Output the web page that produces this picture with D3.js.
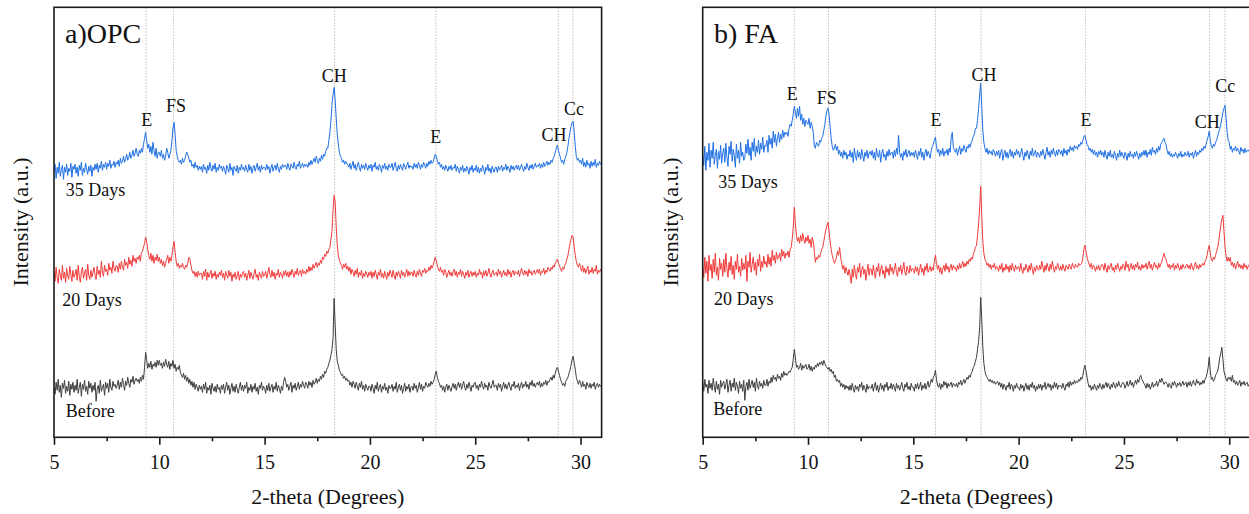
<!DOCTYPE html>
<html>
<head>
<meta charset="utf-8">
<script src="https://cdn.jsdelivr.net/npm/d3@7"></script>
<style>
  body { margin: 0; background: #fff; }
  svg { display: block; }
  text { font-family: "Liberation Serif", "Times New Roman", serif; fill: #111; }
</style>
</head>
<body>
<svg id="chart" width="1249" height="514"></svg>
<script>
// XRD patterns: intensity sampled every 0.05 degree of 2-theta, from 5 to 31
// (one row per degree, 20 samples each).
const twoThetaStart = 5;
const twoThetaStep = 0.05;

const seriesNames = ["Before", "20 Days", "35 Days"];
const xTickValues = [5, 10, 15, 20, 25, 30];
const xMinorTickValues = [7.5, 12.5, 17.5, 22.5, 27.5];

// a) OPC
const opcBefore = [
  50,43,55,47,58,45,52,40,54,49,57,44,51,46,56,42,53,48,55,45,
  52,47,58,44,50,55,41,53,48,57,46,51,43,56,49,54,45,52,47,55,
  36,48,52,44,57,46,50,53,42,55,49,54,45,58,50,47,56,51,53,49,
  52,57,48,55,50,59,53,47,56,52,60,54,50,58,55,61,53,57,59,56,
  58,54,60,56,62,58,70,85,78,69,74,70,76,68,73,71,75,70,77,72,
  77,72,74,69,75,71,78,73,70,76,68,74,71,77,69,73,66,70,68,72,
  65,62,60,64,58,62,56,60,54,58,52,56,50,55,48,53,50,46,52,48,
  51,45,53,48,55,44,50,47,52,43,54,49,46,51,45,53,48,50,44,52,
  48,53,44,50,55,47,52,43,49,54,46,51,45,53,48,44,50,55,47,52,
  46,52,49,55,44,50,47,53,45,51,48,54,46,50,43,52,49,55,47,51,
  49,44,52,47,54,46,50,53,45,51,48,55,46,52,49,44,51,47,55,60,
  56,50,53,47,51,55,45,52,49,54,47,51,55,48,53,50,56,52,49,55,
  53,49,56,52,55,50,57,53,55,59,54,58,56,61,58,63,60,66,64,68,
  70,74,77,82,88,100,139,112,88,76,72,67,65,62,63,59,61,57,59,56,
  57,52,55,50,56,53,49,55,51,47,54,50,56,48,52,46,53,50,47,51,
  51,46,53,49,44,52,48,55,46,50,53,45,51,48,54,47,50,44,52,49,
  49,53,46,51,48,55,45,50,53,47,52,44,49,54,46,51,48,53,45,50,
  51,47,54,49,52,45,50,55,48,53,46,51,49,55,52,50,54,51,56,53,
  55,58,63,66,60,56,54,50,52,47,51,45,50,53,47,52,49,46,51,54,
  49,53,47,52,55,50,54,48,52,56,50,47,53,49,55,51,46,52,50,54,
  55,49,52,47,53,50,56,51,48,54,50,52,47,55,51,49,53,57,50,52,
  52,47,54,50,53,46,51,55,49,53,48,52,55,50,47,53,51,56,49,52,
  50,54,47,52,55,49,53,51,56,50,53,48,55,52,57,51,54,50,53,55,
  52,56,50,54,51,55,53,57,52,56,55,58,60,57,62,59,64,68,70,66,
  62,58,55,52,54,51,56,58,60,64,67,72,78,81,74,68,60,56,53,57,
  54,50,56,51,53,48,55,52,50,54,49,53,51,55,48,52,54,50,53,51,
  52
];
const opc20Days = [
  56,46,60,50,44,58,52,47,62,49,55,45,59,51,48,61,53,46,57,50,
  53,58,47,62,51,45,56,60,49,54,58,47,63,52,48,57,50,55,60,52,
  48,61,53,57,50,66,55,51,62,56,58,52,64,57,60,54,66,59,56,62,
  61,55,64,58,66,60,57,68,62,65,59,70,63,67,61,72,66,69,64,70,
  68,72,66,74,76,80,84,90,86,78,72,68,74,66,72,64,70,67,73,66,
  70,64,68,62,66,60,64,68,72,64,70,66,72,80,86,75,66,61,64,59,
  62,60,64,60,58,62,60,64,70,68,62,57,54,56,51,55,50,56,52,54,
  54,48,56,51,58,47,55,50,53,57,49,54,51,56,48,53,50,55,52,57,
  50,54,47,56,52,49,57,51,55,46,53,50,55,48,52,56,47,53,50,54,
  56,50,54,47,52,57,49,55,51,48,54,58,50,53,47,55,52,49,56,51,
  52,56,49,54,60,53,50,57,51,55,48,54,52,58,50,55,53,49,56,52,
  57,51,55,50,56,52,58,54,50,56,53,59,52,55,57,51,58,54,56,53,
  58,55,61,56,60,57,63,59,62,65,60,64,62,67,64,70,68,73,71,76,
  74,78,80,88,96,118,132,125,100,82,72,67,64,62,58,63,60,64,58,61,
  56,60,53,58,55,51,57,53,59,50,55,52,57,49,54,51,56,53,50,55,
  52,56,49,55,51,57,53,48,55,52,58,50,54,49,56,52,48,55,51,57,
  54,50,57,52,48,55,51,56,53,49,57,52,55,50,54,58,51,56,52,55,
  55,51,57,53,50,56,52,58,54,51,57,55,59,54,57,56,60,57,62,59,
  62,66,70,67,62,58,56,60,55,57,52,58,55,50,54,57,52,55,51,56,
  58,52,56,50,55,53,58,51,56,53,49,55,52,57,50,54,56,51,55,52,
  56,50,54,52,58,53,55,49,56,52,57,51,54,59,53,50,55,57,52,54,
  55,51,58,53,56,50,54,57,52,55,51,58,53,56,50,55,57,52,56,54,
  53,57,51,55,59,54,52,57,53,56,51,58,54,56,52,55,57,53,55,58,
  54,58,52,56,55,59,53,57,55,60,58,56,60,58,62,60,64,66,68,64,
  62,58,56,60,58,62,64,68,72,78,84,88,92,90,80,72,66,62,60,64,
  60,56,62,55,59,54,58,61,53,57,55,60,54,58,56,62,53,57,55,58,
  55
];
const opc35Days = [
  52,58,44,55,49,60,46,53,57,43,55,50,58,47,54,51,59,45,56,53,
  58,49,55,46,57,52,60,47,54,50,59,53,48,56,51,57,46,55,52,58,
  53,59,50,57,54,61,52,58,55,60,53,59,56,62,54,58,57,61,55,60,
  58,62,56,64,59,61,66,60,63,68,62,65,70,64,67,72,66,69,74,68,
  66,72,69,74,70,78,84,90,82,74,78,70,76,68,80,72,66,74,64,70,
  70,66,72,64,68,62,66,74,70,64,68,72,82,94,100,88,72,66,62,60,
  62,58,64,60,62,66,70,68,64,60,62,56,58,54,60,55,57,52,56,53,
  56,50,58,53,55,49,57,52,60,54,51,57,53,59,50,55,52,58,54,56,
  51,56,53,48,57,54,50,59,52,55,47,56,53,51,57,49,55,52,58,53,
  55,51,57,53,50,58,52,56,49,54,57,51,55,59,52,56,50,57,53,55,
  55,52,58,53,56,49,54,58,51,55,57,52,59,54,50,56,53,58,55,57,
  57,53,59,55,52,58,56,54,60,55,53,58,56,61,54,57,59,55,58,56,
  58,55,60,57,62,58,61,64,60,66,62,59,64,61,67,63,68,66,71,74,
  74,82,90,102,118,128,135,122,104,88,78,70,66,64,60,62,58,61,59,57,
  55,59,53,57,61,54,58,52,56,60,55,51,58,54,57,53,59,55,52,57,
  54,58,51,57,55,60,53,56,52,58,55,50,57,54,59,53,56,52,58,55,
  55,59,52,56,60,54,51,57,53,58,55,52,59,56,53,57,60,54,57,55,
  56,53,59,55,58,54,60,57,53,58,55,60,57,54,59,56,61,58,62,59,
  60,64,68,66,62,58,60,55,58,53,56,52,57,54,51,56,53,57,52,55,
  54,58,51,56,53,49,55,52,57,50,54,51,56,53,48,55,52,57,50,54,
  52,57,50,55,49,54,51,57,53,48,55,52,58,51,54,49,56,53,50,55,
  55,50,56,52,54,57,51,55,53,58,52,56,54,50,57,53,56,52,55,57,
  53,57,52,55,58,54,51,56,53,59,55,52,57,54,58,53,56,59,55,57,
  56,59,54,58,55,60,56,58,61,57,60,58,62,60,64,66,70,74,77,72,
  68,64,60,62,58,63,66,70,76,84,90,96,100,101,90,76,66,62,64,60,
  62,58,64,56,60,55,62,57,59,54,61,56,60,57,63,55,59,57,61,58,
  58
];
const opcOffsets = [0, 110, 215];

// b) FA
const faBefore = [
  55,46,58,50,53,44,57,49,54,47,59,51,45,56,48,53,43,57,50,54,
  56,48,53,58,45,52,57,46,54,50,59,47,55,51,44,56,49,53,46,57,
  37,51,55,47,58,49,53,57,50,55,46,59,52,48,56,51,54,49,57,52,
  52,58,51,56,54,60,55,62,58,60,56,63,59,61,57,64,60,66,62,64,
  62,64,66,65,68,70,78,88,80,70,72,68,70,74,67,72,69,71,73,68,
  69,73,67,71,66,70,68,72,70,74,71,75,73,76,72,77,74,71,70,68,
  70,66,68,64,66,60,62,56,58,55,57,51,54,50,53,48,52,49,51,47,
  52,47,54,49,45,52,48,51,46,53,50,55,47,52,49,45,53,48,51,50,
  49,53,46,51,55,47,52,45,50,54,48,52,46,53,50,55,47,51,49,54,
  48,53,50,46,54,49,52,47,51,55,49,46,53,50,55,48,51,47,54,50,
  50,46,53,49,54,48,51,55,47,52,49,54,48,52,56,50,53,58,55,60,
  62,67,58,52,50,54,48,53,50,56,52,55,49,54,51,53,55,50,54,52,
  51,54,50,55,53,57,52,55,58,54,57,60,58,62,60,64,66,70,72,76,
  80,88,96,110,140,118,90,74,66,62,60,58,56,58,55,57,54,56,53,55,
  56,52,55,50,54,48,53,51,47,52,50,55,48,53,51,46,52,49,54,50,
  50,47,53,49,52,46,51,54,48,52,47,53,50,55,49,52,46,51,48,53,
  49,53,47,52,50,55,48,51,54,50,53,47,52,49,55,50,54,48,52,51,
  52,49,54,50,47,53,51,55,50,56,52,55,53,57,54,56,55,58,56,60,
  58,62,68,72,66,60,54,50,52,47,51,48,53,50,47,52,49,54,51,48,
  53,49,52,55,50,54,51,48,53,50,55,52,49,54,51,56,52,50,53,55,
  54,49,52,56,51,53,57,52,55,50,54,57,53,58,55,60,62,58,56,54,
  52,49,54,50,53,48,51,55,50,53,52,56,51,54,58,55,59,56,53,55,
  55,53,50,54,51,49,55,52,56,53,50,54,52,55,51,53,56,52,54,55,
  50,55,52,56,51,54,57,53,52,58,54,56,52,55,53,57,54,58,60,64,
  70,80,66,58,60,56,58,62,64,66,72,80,84,90,78,66,62,58,56,60,
  58,60,56,62,55,57,53,56,52,54,57,51,55,53,56,52,54,55,51,53,
  53
];
const fa20Days = [
  62,50,70,54,66,46,72,57,63,49,68,55,74,52,60,47,69,58,64,51,
  68,55,74,59,50,65,57,71,53,62,48,66,58,73,55,61,51,69,57,64,
  58,72,46,66,60,75,55,63,70,57,65,52,68,61,73,56,66,60,71,63,
  66,60,73,63,70,61,77,67,72,64,75,68,70,74,66,78,71,76,69,74,
  72,76,70,78,80,88,100,120,104,92,86,90,84,92,86,94,88,84,90,86,
  92,84,88,80,90,86,76,65,70,68,72,70,74,78,80,86,92,98,102,105,
  96,86,78,72,68,64,66,70,76,72,80,70,64,58,62,54,60,56,52,58,
  52,44,58,50,62,54,48,60,55,64,50,57,61,53,58,47,56,63,52,59,
  58,52,62,55,49,60,56,64,51,58,62,53,57,49,61,55,59,52,63,56,
  60,53,58,64,55,51,60,56,62,53,58,65,55,52,61,57,54,62,56,59,
  58,54,61,56,60,52,58,63,55,59,52,61,57,64,55,58,61,56,60,57,
  66,72,64,58,62,55,60,53,58,62,56,64,58,61,55,60,63,57,62,59,
  60,56,62,58,64,59,62,66,60,64,61,66,63,68,66,70,68,73,76,80,
  82,92,104,120,141,112,86,74,68,66,62,64,60,63,58,62,60,64,58,61,
  60,56,62,58,64,55,60,57,63,58,61,55,62,57,64,59,56,62,58,60,
  61,56,64,58,54,60,57,63,59,55,62,57,64,58,53,60,56,62,59,57,
  62,58,66,60,55,62,57,64,60,56,63,58,66,60,55,61,58,64,60,57,
  61,57,63,59,56,62,60,58,63,60,58,64,61,59,63,61,60,64,62,63,
  64,70,78,82,76,70,66,63,60,64,58,62,60,56,61,58,62,57,60,63,
  62,57,64,59,55,62,58,61,64,57,60,55,62,58,64,60,56,61,58,63,
  62,57,66,60,63,56,60,64,58,62,57,63,60,65,58,61,57,63,59,62,
  60,64,58,62,66,59,63,57,61,65,60,62,58,64,60,63,66,70,74,70,
  68,64,60,63,58,62,60,64,57,62,59,64,60,57,62,58,63,60,59,62,
  63,59,62,58,64,60,57,62,65,59,62,58,63,60,62,64,62,66,68,72,
  78,82,74,68,66,70,68,72,76,80,86,94,102,108,112,96,80,72,66,70,
  66,70,62,65,60,64,58,62,66,60,63,59,62,58,64,60,62,58,61,63,
  62
];
const fa35Days = [
  58,47,66,42,60,52,69,45,62,54,70,48,57,63,44,61,53,67,49,59,
  64,50,69,55,46,66,58,71,51,63,57,45,68,54,62,49,70,56,60,52,
  55,68,59,73,57,65,52,70,61,74,56,66,60,72,58,69,63,75,60,67,
  66,72,60,77,68,74,64,81,70,78,66,74,80,70,78,73,82,75,80,78,
  80,76,84,88,86,92,98,106,100,94,104,96,106,92,98,88,94,86,92,90,
  88,94,84,90,86,80,66,64,70,68,66,72,70,74,76,82,88,96,102,104,
  98,86,74,66,62,64,68,62,66,58,62,56,60,54,62,57,60,53,58,56,
  62,55,60,50,64,57,52,62,55,60,53,63,57,51,60,56,62,54,59,61,
  57,62,54,60,52,64,57,55,62,50,59,63,55,58,52,61,56,63,57,60,
  60,54,62,56,64,58,77,60,55,59,52,61,57,63,55,59,62,56,60,57,
  60,55,62,58,53,61,57,64,55,60,52,59,63,56,61,58,54,62,66,68,
  72,75,66,60,63,56,62,58,64,56,61,59,63,57,64,60,75,80,65,62,
  60,64,57,62,66,58,64,61,67,63,60,66,64,68,65,70,72,76,78,84,
  84,92,104,118,129,106,82,70,64,60,64,58,62,59,61,57,63,60,56,61,
  57,62,54,60,63,52,58,62,55,60,54,59,63,56,61,54,60,57,63,58,
  61,55,59,64,57,52,60,56,62,58,53,61,57,64,56,59,62,55,60,58,
  55,61,57,63,58,53,60,65,57,61,55,62,58,64,59,56,62,57,63,61,
  58,62,56,64,59,62,57,63,60,66,62,65,61,67,64,66,63,68,66,70,
  68,72,76,77,72,68,66,62,64,60,63,58,62,57,60,55,61,58,62,57,
  60,55,62,57,53,60,56,62,55,58,54,61,57,52,59,55,62,56,60,57,
  54,60,57,52,59,55,61,56,58,54,60,56,61,57,53,59,55,60,57,62,
  57,62,55,60,58,63,57,65,60,62,58,64,60,66,62,68,70,72,74,70,
  68,62,58,61,56,59,55,58,56,60,57,54,59,56,61,55,58,56,60,57,
  57,61,55,59,57,60,54,58,62,56,60,58,62,60,64,62,66,64,68,72,
  76,81,72,66,64,68,66,70,72,76,80,84,88,94,100,104,107,94,80,72,
  70,63,66,60,64,62,66,61,64,62,58,65,61,63,59,64,60,62,61,63,
  63
];
const faOffsets = [0, 110, 225];

// Phase markers (2-theta) and their labels: E = ettringite, FS = Friedel's salt,
// CH = portlandite, Cc = calcite. Label level is in intensity units.
const opcPhaseLines = [9.37, 10.68, 18.33, 23.13, 28.94, 29.64];
const opcPhaseLabels = ["E", "FS", "CH", "E", "CH", "Cc"];
const opcLabelTheta = [9.40, 10.79, 18.31, 23.12, 28.74, 29.69];
const opcLabelLevel = [311, 325, 355, 294, 296, 322];

const faPhaseLines = [9.35, 10.97, 16.05, 18.22, 23.18, 29.07, 29.80];
const faPhaseLabels = ["E", "FS", "E", "CH", "E", "CH", "Cc"];
const faLabelTheta = [9.25, 10.89, 16.08, 18.36, 23.20, 28.96, 29.81];
const faLabelLevel = [337, 333, 311, 356, 311, 309, 345];

// Series name positions (2-theta of the left edge, intensity level)
const opcNameTheta = [5.56, 5.39, 5.56];
const opcNameLevel = [20, 131, 241];
const faNameTheta = [5.50, 5.54, 5.74];
const faNameLevel = [22, 132, 249];

const seriesColors = ["#3d3d3d", "#f03a3a", "#1f6fe3"];
const serif = "Liberation Serif, Times New Roman, serif";

const svg = d3.select("#chart");
const plotTop = 7.3, plotBottom = 437.3;
const y = d3.scaleLinear().domain([0, 430]).range([plotBottom, plotTop]);

const panels = [
  {
    left: 54, right: 601.6, title: "a)OPC", titleX: 65,
    series: [opcBefore, opc20Days, opc35Days], offsets: opcOffsets,
    lines: opcPhaseLines, labels: opcPhaseLabels, labelTheta: opcLabelTheta, labelLevel: opcLabelLevel,
    nameTheta: opcNameTheta, nameLevel: opcNameLevel, yTitleX: 28
  },
  {
    left: 702.7, right: 1250.3, title: "b) FA", titleX: 714,
    series: [faBefore, fa20Days, fa35Days], offsets: faOffsets,
    lines: faPhaseLines, labels: faPhaseLabels, labelTheta: faLabelTheta, labelLevel: faLabelLevel,
    nameTheta: faNameTheta, nameLevel: faNameLevel, yTitleX: 678
  }
];

panels.forEach((p, pi) => {
  const x = d3.scaleLinear().domain([5, 31]).range([p.left, p.right]);
  const g = svg.append("g");

  const clipId = "clip" + pi;
  svg.append("clipPath").attr("id", clipId)
    .append("rect").attr("x", p.left).attr("y", plotTop)
    .attr("width", p.right - p.left).attr("height", plotBottom - plotTop);

  // dotted phase marker lines
  g.selectAll("line.phase").data(p.lines).join("line")
    .attr("class", "phase")
    .attr("x1", d => x(d)).attr("x2", d => x(d))
    .attr("y1", plotTop).attr("y2", plotBottom)
    .attr("stroke", "#bdbdbd").attr("stroke-width", 1)
    .attr("stroke-dasharray", "1.5,1.5");

  // patterns
  p.series.forEach((vals, si) => {
    const line = d3.line()
      .x((v, i) => x(twoThetaStart + i * twoThetaStep))
      .y(v => y(v + p.offsets[si]));
    g.append("path")
      .datum(vals)
      .attr("clip-path", `url(#${clipId})`)
      .attr("fill", "none")
      .attr("stroke", seriesColors[si])
      .attr("stroke-width", 1)
      .attr("stroke-linejoin", "round")
      .attr("d", line);
  });

  // phase labels
  g.selectAll("text.phase").data(p.labels).join("text")
    .attr("class", "phase")
    .attr("x", (d, i) => x(p.labelTheta[i]))
    .attr("y", (d, i) => y(p.labelLevel[i]))
    .attr("text-anchor", "middle")
    .attr("font-family", serif)
    .attr("font-size", 18)
    .text(d => d);

  // series names
  g.selectAll("text.name").data(seriesNames).join("text")
    .attr("class", "name")
    .attr("x", (d, i) => x(p.nameTheta[i]))
    .attr("y", (d, i) => y(p.nameLevel[i]))
    .attr("font-family", serif)
    .attr("font-size", 18)
    .text(d => d);

  // panel title
  g.append("text")
    .attr("x", p.titleX).attr("y", 43.3)
    .attr("font-family", serif)
    .attr("font-size", 28)
    .text(p.title);

  // frame
  g.append("rect")
    .attr("x", p.left).attr("y", plotTop)
    .attr("width", p.right - p.left).attr("height", plotBottom - plotTop)
    .attr("fill", "none").attr("stroke", "#1a1a1a").attr("stroke-width", 1.6);

  // bottom axis: major ticks with labels, minor ticks without
  const axisMajor = d3.axisBottom(x).tickValues(xTickValues).tickSize(7.5).tickFormat(d3.format("d"));
  const ga = g.append("g").attr("transform", `translate(0,${plotBottom})`).call(axisMajor);
  ga.attr("font-family", serif).attr("font-size", 20);
  ga.select(".domain").remove();
  ga.selectAll(".tick line").attr("stroke", "#1a1a1a").attr("stroke-width", 1.6);
  ga.selectAll(".tick text")
    .attr("y", 32).attr("dy", 0)
    .attr("font-family", serif).attr("font-size", 20).attr("fill", "#111");

  const axisMinor = d3.axisBottom(x).tickValues(xMinorTickValues).tickSize(4).tickFormat("");
  const gm = g.append("g").attr("transform", `translate(0,${plotBottom})`).call(axisMinor);
  gm.select(".domain").remove();
  gm.selectAll(".tick line").attr("stroke", "#1a1a1a").attr("stroke-width", 1.6);

  // axis titles
  g.append("text")
    .attr("x", x(18)).attr("y", 504)
    .attr("text-anchor", "middle")
    .attr("font-family", serif)
    .attr("font-size", 22)
    .text("2-theta (Degrees)");

  g.append("text")
    .attr("transform", `translate(${p.yTitleX},222) rotate(-90)`)
    .attr("text-anchor", "middle")
    .attr("font-family", serif)
    .attr("font-size", 22)
    .text("Intensity (a.u.)");
});
</script>
</body>
</html>
